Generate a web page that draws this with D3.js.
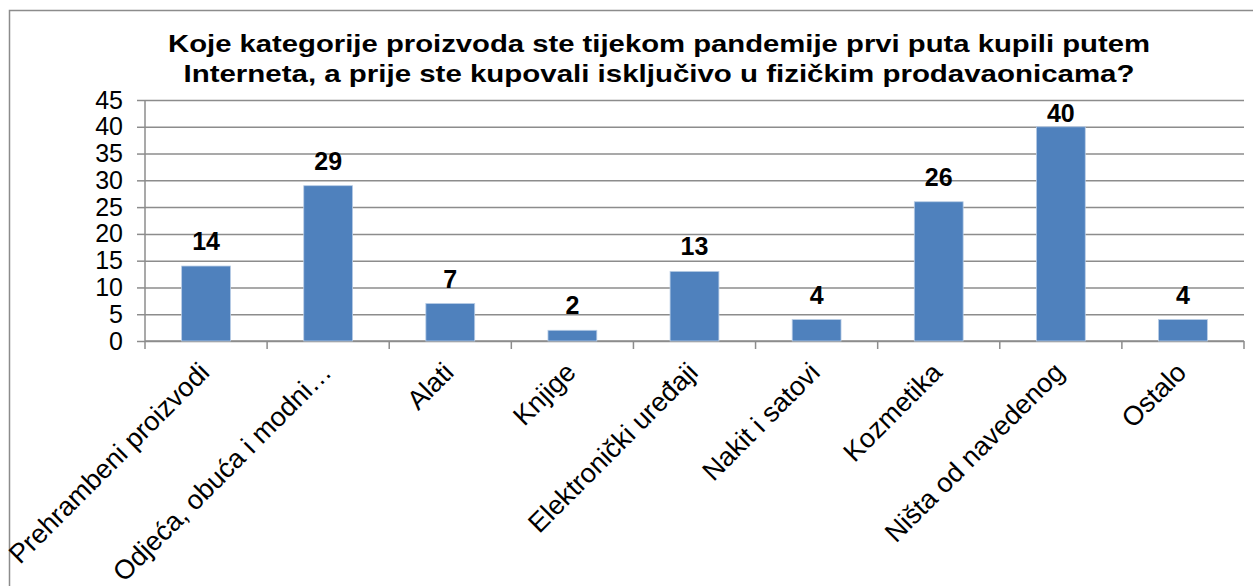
<!DOCTYPE html>
<html>
<head>
<meta charset="utf-8">
<script src="https://cdn.jsdelivr.net/npm/d3@7/dist/d3.min.js"></script>
<style>
  html, body { margin: 0; padding: 0; background: #fff; }
  svg { display: block; font-family: Arial, "Liberation Sans", sans-serif; }
</style>
</head>
<body>
<svg id="chart" width="1253" height="586"></svg>
<script>
const titleLines = [
  "Koje kategorije proizvoda ste tijekom pandemije prvi puta kupili putem",
  "Interneta, a prije ste kupovali isključivo u fizičkim prodavaonicama?"
];
const categories = [
  "Prehrambeni proizvodi",
  "Odjeća, obuća i modni…",
  "Alati",
  "Knjige",
  "Elektronički uređaji",
  "Nakit i satovi",
  "Kozmetika",
  "Ništa od navedenog",
  "Ostalo"
];
const values = [14, 29, 7, 2, 13, 4, 26, 40, 4];
const yTicks = [0, 5, 10, 15, 20, 25, 30, 35, 40, 45];

const svg = d3.select("#chart");
const W = 1253, H = 586;
const plot = { left: 145, right: 1244, top: 100, bottom: 341 };
const gridColor = "#8c8c8c";

// outer frame
svg.append("rect")
  .attr("x", 9.5).attr("y", 10.5)
  .attr("width", W + 20).attr("height", H + 20)
  .attr("fill", "none").attr("stroke", gridColor).attr("stroke-width", 1.5);

const x = d3.scaleBand().domain(categories)
  .range([plot.left, plot.right]).paddingInner(0.6).paddingOuter(0.3);
const y = d3.scaleLinear().domain([0, 45]).range([plot.bottom, plot.top]);

// gridlines + y axis
const yAxis = d3.axisLeft(y).tickValues(yTicks).tickSize(8).tickPadding(14)
  .tickFormat(d3.format("d"));
const gy = svg.append("g").attr("transform", `translate(${plot.left},0)`).call(yAxis);
gy.select(".domain").attr("stroke", gridColor).attr("stroke-width", 1.5)
  .attr("d", `M0,${plot.top}V${plot.bottom}`);
gy.selectAll(".tick line").attr("stroke", gridColor).attr("stroke-width", 1.5);
gy.selectAll(".tick text").attr("font-size", 25).attr("fill", "#000")
  .attr("font-family", "Arial, 'Liberation Sans', sans-serif");
gy.selectAll(".tick").append("line")
  .attr("x1", 0).attr("x2", plot.right - plot.left)
  .attr("stroke", gridColor).attr("stroke-width", 1.5);

// x axis with ticks at band boundaries
const step = x.step();
const boundaries = d3.range(categories.length + 1).map(i => plot.left + i * step);
const gx = svg.append("g");
gx.append("line")
  .attr("x1", plot.left).attr("x2", plot.right)
  .attr("y1", plot.bottom).attr("y2", plot.bottom)
  .attr("stroke", gridColor).attr("stroke-width", 1.5);
gx.selectAll("line.tk").data(boundaries).enter().append("line")
  .attr("class", "tk")
  .attr("x1", d => d).attr("x2", d => d)
  .attr("y1", plot.bottom).attr("y2", plot.bottom + 8)
  .attr("stroke", gridColor).attr("stroke-width", 1.5);

// category labels
gx.selectAll("text.cat").data(categories).enter().append("text")
  .attr("class", "cat")
  .attr("text-anchor", "end")
  .attr("font-size", 27)
  .attr("fill", "#000")
  .attr("transform", d => `translate(${x(d) + x.bandwidth() / 2 + 5},${plot.bottom + 33}) rotate(-45)`)
  .text(d => d);

// bars
svg.append("g").selectAll("rect").data(values).enter().append("rect")
  .attr("x", (d, i) => x(categories[i]))
  .attr("width", x.bandwidth())
  .attr("y", d => y(d))
  .attr("height", d => y(0) - y(d))
  .attr("fill", "#4f81bd")
  .attr("stroke", "#b9cde5").attr("stroke-width", 0.8);

// data labels (kept inside the plot area)
svg.append("g").selectAll("text").data(values).enter().append("text")
  .attr("x", (d, i) => x(categories[i]) + x.bandwidth() / 2)
  .attr("y", d => Math.max(y(d) - 16, plot.top + 22))
  .attr("text-anchor", "middle")
  .attr("font-size", 25).attr("font-weight", "bold").attr("fill", "#000")
  .text(d => d);

// title
const titleWidths = [982, 951];
svg.append("g").selectAll("text").data(titleLines).enter().append("text")
  .attr("x", 659)
  .attr("y", (d, i) => 52 + i * 30)
  .attr("text-anchor", "middle")
  .attr("font-size", 24).attr("font-weight", "bold").attr("fill", "#000")
  .attr("textLength", (d, i) => titleWidths[i])
  .attr("lengthAdjust", "spacingAndGlyphs")
  .text(d => d);
</script>
</body>
</html>
